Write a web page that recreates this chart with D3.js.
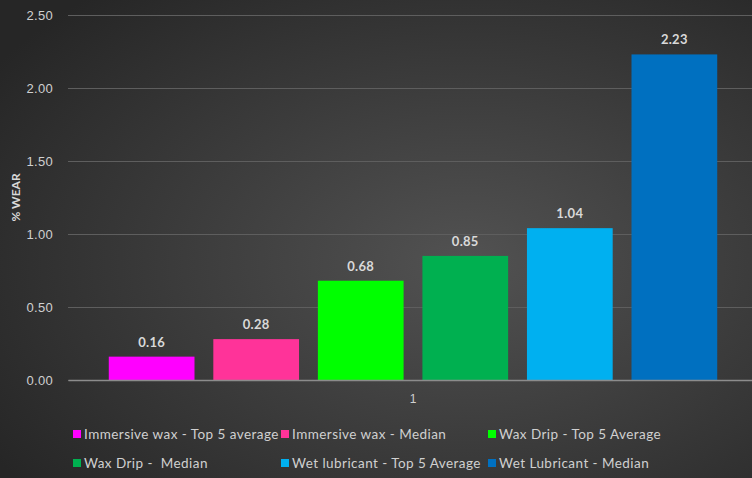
<!DOCTYPE html>
<html>
<head>
<meta charset="utf-8">
<script src="https://cdn.jsdelivr.net/npm/d3@7"></script>
<style>
  body { margin: 0; background: #333; }
  svg { display: block; font-family: Lato, "Open Sans", sans-serif; }
</style>
</head>
<body>
<div id="chart"></div>
<script>
const categories = ["1"];
const seriesNames = [
    "Immersive wax - Top 5 average",
    "Immersive wax - Median",
    "Wax Drip - Top 5 Average",
    "Wax Drip -  Median",
    "Wet lubricant - Top 5 Average",
    "Wet Lubricant - Median"
];
const seriesValues = [0.16, 0.28, 0.68, 0.85, 1.04, 2.23];
const seriesColors = ["#ff00ff", "#ff3399", "#00ff00", "#00b050", "#00b0f0", "#0070c0"];
const yTicks = [0, 0.5, 1, 1.5, 2, 2.5];

const W = 752, H = 478;
const margin = {top: 15, right: -6, bottom: 98, left: 68};
const width = W - margin.left - margin.right;
const height = H - margin.top - margin.bottom;

const root = d3.select("#chart").append("svg")
    .attr("width", W)
    .attr("height", H);

const grad = root.append("defs").append("radialGradient")
    .attr("id", "bg")
    .attr("cx", "62%").attr("cy", "55%").attr("r", "75%");
grad.append("stop").attr("offset", "0%").attr("stop-color", "#525252");
grad.append("stop").attr("offset", "100%").attr("stop-color", "#262626");

root.append("rect").attr("width", W).attr("height", H).attr("fill", "url(#bg)");

const svg = root.append("g")
    .attr("transform", `translate(${margin.left},${margin.top})`);

const yScale = d3.scaleLinear().domain([0, 2.5]).range([height, 0]);
const x0 = d3.scaleBand().domain(categories).range([0, width]).paddingInner(0).paddingOuter(0.05);
const x1 = d3.scaleBand().domain(seriesNames).range([0, x0.bandwidth()])
    .paddingInner(0.18).paddingOuter(0.09);

// gridlines
svg.append("g")
    .attr("class", "grid")
    .call(d3.axisLeft(yScale).tickValues(yTicks).tickSize(-width).tickFormat(""))
    .call(g => g.select(".domain").remove())
    .call(g => g.selectAll("line").attr("stroke", "#5e5e5e").attr("stroke-width", 1));

// y axis labels
svg.append("g")
    .call(d3.axisLeft(yScale).tickValues(yTicks).tickSize(0).tickPadding(15).tickFormat(d3.format(".2f")))
    .call(g => g.select(".domain").remove())
    .call(g => g.selectAll("text").attr("fill", "#d0d0d0").style("font-size", "13px").style("letter-spacing", "0.3px"));

// bars
const group = svg.selectAll(".cat")
    .data(categories)
    .enter().append("g")
    .attr("transform", d => `translate(${x0(d)},0)`);

group.selectAll("rect")
    .data(seriesNames.map((s, i) => ({name: s, value: seriesValues[i], color: seriesColors[i]})))
    .enter().append("rect")
    .attr("x", d => x1(d.name))
    .attr("y", d => yScale(d.value))
    .attr("width", x1.bandwidth())
    .attr("height", d => yScale(0) - yScale(d.value))
    .attr("fill", d => d.color);

group.selectAll(".val")
    .data(seriesNames.map((s, i) => ({name: s, value: seriesValues[i]})))
    .enter().append("text")
    .attr("x", d => x1(d.name) + x1.bandwidth() / 2)
    .attr("y", d => yScale(d.value) - 10)
    .attr("text-anchor", "middle")
    .attr("fill", "#d9d9d9")
    .style("font-size", "13px")
    .style("font-weight", "bold")
    .style("letter-spacing", "0.3px")
    .text(d => d3.format(".2f")(d.value));

// x axis
svg.append("g")
    .attr("transform", `translate(0,${height})`)
    .call(d3.axisBottom(x0).tickSize(0).tickPadding(14))
    .call(g => g.select(".domain").attr("stroke", "#8c8c8c").attr("stroke-width", 1.5))
    .call(g => g.selectAll("text").attr("fill", "#d0d0d0").style("font-size", "12px"));

// y title
root.append("text")
    .attr("transform", `translate(20,${margin.top + height / 2}) rotate(-90)`)
    .attr("text-anchor", "middle")
    .attr("fill", "#d9d9d9")
    .style("font-size", "12px")
    .style("font-weight", "bold")
    .text("% WEAR");

// legend
const legendX = [73, 281, 488];
const legendY = [434, 463];
const legend = root.selectAll(".leg")
    .data(seriesNames)
    .enter().append("g")
    .attr("transform", (d, i) => `translate(${legendX[i % 3]},${legendY[Math.floor(i / 3)]})`);

legend.append("rect")
    .attr("x", 0).attr("y", -4)
    .attr("width", 8).attr("height", 8)
    .attr("fill", (d, i) => seriesColors[i]);

legend.append("text")
    .attr("x", 11).attr("y", 0)
    .attr("dy", "0.35em")
    .attr("fill", "#d0d0d0")
    .style("font-size", "13.5px")
    .style("letter-spacing", "0.45px")
    .style("white-space", "pre")
    .text(d => d);
</script>
</body>
</html>
